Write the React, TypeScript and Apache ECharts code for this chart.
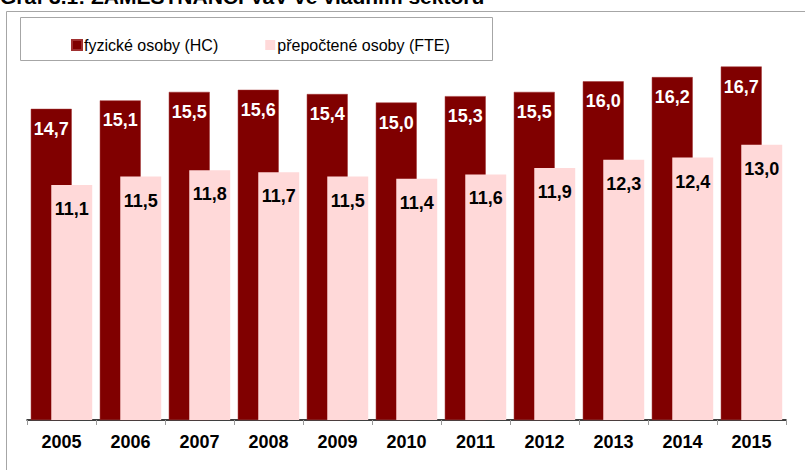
import React, { useEffect, useRef } from "react";
import * as echarts from "echarts";

const years = ["2005", "2006", "2007", "2008", "2009", "2010", "2011", "2012", "2013", "2014", "2015"];
const hcValues = [14.7, 15.1, 15.5, 15.6, 15.4, 15.0, 15.3, 15.5, 16.0, 16.2, 16.7];
const fteValues = [11.1, 11.5, 11.8, 11.7, 11.5, 11.4, 11.6, 11.9, 12.3, 12.4, 13.0];
const seriesNames = ["fyzické osoby (HC)", "přepočtené osoby (FTE)"];
const titleText = "Graf 3.1: ZAMĚSTNANCI VaV ve vládním sektoru";

const fmt = (p: any) => Number(p.value).toFixed(1).replace(".", ",");
const FONT = "Arial, 'Liberation Sans', sans-serif";

export default function App() {
  const ref = useRef<HTMLDivElement>(null);
  useEffect(() => {
    const chart = echarts.init(ref.current!, null, { renderer: "svg" });
    chart.setOption({
      animation: false,
      backgroundColor: "#ffffff",
      graphic: [
        {
          type: "text",
          left: 0,
          top: -14,
          style: {
            text: titleText,
            font: "bold 21px Arial, 'Liberation Sans', sans-serif",
            fill: "#000",
          },
        },
        {
          type: "rect",
          shape: { x: 6.5, y: 11.5, width: 820, height: 480 },
          style: { fill: "none", stroke: "#a6a6a6", lineWidth: 1 },
          z: -1,
        },
        {
          type: "rect",
          shape: { x: 20.5, y: 17.5, width: 472, height: 43 },
          style: { fill: "#fff", stroke: "#a6a6a6", lineWidth: 1 },
          z: 0,
        },
      ],
      legend: {
        left: 66,
        top: 32,
        itemWidth: 10,
        itemHeight: 10,
        itemGap: 47,
        icon: "rect",
        z: 5,
        textStyle: { fontSize: 16, fontFamily: FONT, color: "#000", padding: [0, 0, 0, -3] },
        data: seriesNames,
      },
      grid: { left: 27, right: 19, top: 39, bottom: 50 },
      xAxis: {
        type: "category",
        data: years,
        axisLine: { lineStyle: { color: "#000", width: 1.5 } },
        axisTick: { show: true, length: 5, lineStyle: { color: "#999" } },
        axisLabel: {
          fontSize: 18,
          fontWeight: "bold",
          fontFamily: FONT,
          color: "#000",
          margin: 13,
        },
      },
      yAxis: {
        type: "value",
        min: 0,
        max: 18,
        show: false,
        splitLine: { show: false },
      },
      series: [
        {
          name: seriesNames[0],
          type: "bar",
          data: hcValues,
          barGap: "-50%",
          barCategoryGap: "11%",
          itemStyle: { color: "#800000", borderColor: "#a03030", borderWidth: 0.5 },
          label: {
            show: true,
            position: "insideTop",
            distance: 11,
            formatter: fmt,
            color: "#fff",
            fontSize: 18,
            fontWeight: "bold",
            fontFamily: FONT,
          },
        },
        {
          name: seriesNames[1],
          type: "bar",
          data: fteValues,
          itemStyle: { color: "#ffd9d9" },
          label: {
            show: true,
            position: "insideTop",
            distance: 15,
            formatter: fmt,
            color: "#000",
            fontSize: 18,
            fontWeight: "bold",
            fontFamily: FONT,
          },
        },
      ],
    });
    return () => chart.dispose();
  }, []);
  return <div ref={ref} style={{ position: "fixed", left: 0, top: 0, width: 805, height: 470 }} />;
}
